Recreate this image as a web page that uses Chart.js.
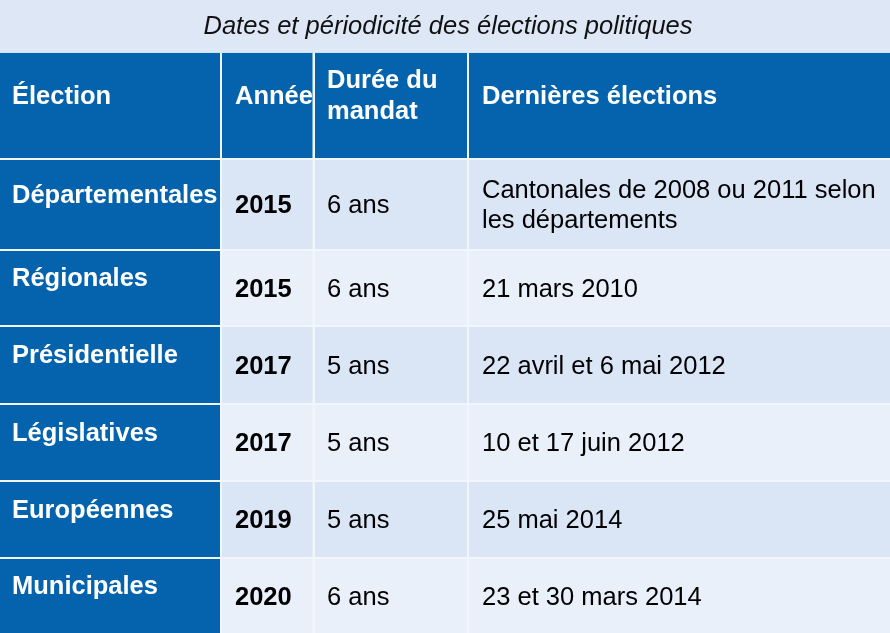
<!DOCTYPE html>
<html lang="fr">
<head>
<meta charset="utf-8">
<script src="https://cdn.jsdelivr.net/npm/chart.js@4/dist/chart.umd.min.js"></script>
<style>
html,body{margin:0;padding:0;background:#ffffff;}
#wrap{width:890px;height:633px;}
</style>
</head>
<body>
<div id="wrap"><canvas id="c" width="890" height="633"></canvas></div>
<script>
// ---- data ----
const title = 'Dates et périodicité des élections politiques';
const headers = ['Élection', 'Année', 'Durée du mandat', 'Dernières élections'];
const elections = ['Départementales', 'Régionales', 'Présidentielle', 'Législatives', 'Européennes', 'Municipales'];
const annees = ['2015', '2015', '2017', '2017', '2019', '2020'];
const durees = ['6 ans', '6 ans', '5 ans', '5 ans', '5 ans', '6 ans'];
const dernieres = [
  'Cantonales de 2008 ou 2011 selon les départements',
  '21 mars 2010',
  '22 avril et 6 mai 2012',
  '10 et 17 juin 2012',
  '25 mai 2014',
  '23 et 30 mars 2014'
];

// ---- layout (in scale units) ----
const W = 890, H = 633;
const titleBand = [0, 52];
const colEdges = [[0, 220], [222, 312.5], [315, 467], [469, 890]];
const rowEdges = [[53, 158], [160, 249], [251, 325], [327, 403], [405, 480], [482, 557], [559, 633]];
const colPad = [12, 13, 12, 13];
const style = {
  dark: '#0563ad',
  band: '#dde7f5',
  rowOdd: '#dae5f6',
  rowEven: '#e9f0fa',
  gap: '#f1f6fc',
  bandLine: '#c9e4f6',
  family: '"Liberation Sans", Arial, Helvetica, sans-serif',
  size: 25.5,
  lineH: 30.5
};

const tablePlugin = {
  id: 'tablePlugin',
  beforeDatasetsDraw(chart) {
    const ctx = chart.ctx;
    const xs = chart.scales.x, ys = chart.scales.y;
    const X = v => xs.getPixelForValue(v);
    const Y = v => ys.getPixelForValue(v);
    const rect = (x0, x1, y0, y1, col) => {
      ctx.fillStyle = col;
      ctx.fillRect(X(x0), Y(y0), X(x1) - X(x0), Y(y1) - Y(y0));
    };
    ctx.save();
    rect(0, W, 0, H, style.gap);
    rect(0, W, titleBand[0], titleBand[1], style.band);
    rect(0, W, titleBand[1], titleBand[1] + 1, style.bandLine);
    ctx.fillStyle = '#111111';
    ctx.font = 'italic ' + style.size + 'px ' + style.family;
    ctx.textAlign = 'center';
    ctx.textBaseline = 'alphabetic';
    ctx.fillText(title, X(448), Y(34));
    ctx.textAlign = 'left';

    const wrap = (text, maxW) => {
      const words = text.split(' ');
      const lines = [];
      let cur = '';
      words.forEach(w => {
        const t = cur ? cur + ' ' + w : w;
        if (cur && ctx.measureText(t).width > maxW) { lines.push(cur); cur = w; }
        else cur = t;
      });
      if (cur) lines.push(cur);
      return lines;
    };

    const drawCell = (r, c, text, bg, color, bold, dark) => {
      const [x0, x1] = colEdges[c];
      const [y0, y1] = rowEdges[r];
      rect(x0, x1, y0, y1, bg);
      ctx.font = (bold ? 'bold ' : '') + style.size + 'px ' + style.family;
      ctx.fillStyle = color;
      const maxW = (X(x1) - X(x0)) - colPad[c] + 2;
      const lines = wrap(text, maxW);
      const mid = (Y(y0) + Y(y1)) / 2 + (dark ? -2 : 8.5);
      const first = mid - (lines.length - 1) * style.lineH / 2;
      lines.forEach((ln, i) => ctx.fillText(ln, X(x0 + colPad[c]), first + i * style.lineH));
    };

    headers.forEach((h, c) => drawCell(0, c, h, style.dark, '#ffffff', true, true));
    elections.forEach((e, i) => {
      const r = i + 1;
      const bg = i % 2 === 0 ? style.rowOdd : style.rowEven;
      drawCell(r, 0, e, style.dark, '#ffffff', true, true);
      drawCell(r, 1, annees[i], bg, '#000000', true, false);
      drawCell(r, 2, durees[i], bg, '#000000', false, false);
      drawCell(r, 3, dernieres[i], bg, '#000000', false, false);
    });
    ctx.restore();
  }
};

new Chart(document.getElementById('c'), {
  type: 'bar',
  data: { labels: [], datasets: [] },
  options: {
    responsive: false,
    animation: false,
    devicePixelRatio: 1,
    layout: { padding: 0 },
    events: [],
    plugins: { legend: { display: false }, tooltip: { enabled: false }, title: { display: false } },
    scales: {
      x: { type: 'linear', min: 0, max: W, display: false, offset: false, grid: { offset: false } },
      y: { type: 'linear', min: 0, max: H, reverse: true, display: false, offset: false }
    }
  },
  plugins: [tablePlugin]
});
</script>
</body>
</html>
